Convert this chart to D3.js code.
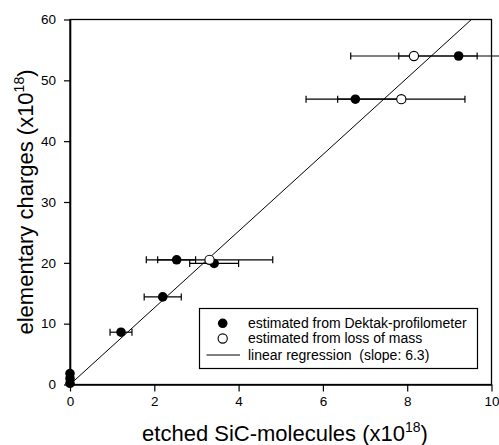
<!DOCTYPE html>
<html>
<head>
<meta charset="utf-8">
<script src="https://cdn.jsdelivr.net/npm/d3@7"></script>
<style>
  html, body { margin: 0; padding: 0; background: #fff; }
  svg { display: block; }
  text { font-family: "Liberation Sans", Arial, Helvetica, sans-serif; fill: #000; }
</style>
</head>
<body>
<svg id="chart" width="499" height="445"></svg>
<script>
// Etched SiC molecules vs. elementary charges (both x10^18)
const dektakX   = [0, 0, 0, 1.21, 2.2, 2.53, 3.42, 6.77, 9.22];
const dektakY   = [0.2, 1.0, 1.8, 8.6, 14.4, 20.5, 19.9, 46.9, 54.0];
const dektakErr = [0, 0, 0, 0.26, 0.44, 0.45, 0.58, 1.17, 1.42];

const massX   = [3.31, 7.86, 8.16];
const massY   = [20.5, 46.9, 54.0];
const massErr = [1.5, 1.51, 1.5];

const slope = 6.3;

const xTicks = [0, 2, 4, 6, 8, 10];
const yTicks = [0, 10, 20, 30, 40, 50, 60];

const legendLabels = [
  "estimated from Dektak-profilometer",
  "estimated from loss of mass",
  "linear regression  (slope: 6.3)"
];

const svg = d3.select("#chart");
const plotL = 70, plotR = 491.5, plotT = 19.5, plotB = 384.5;

const x = d3.scaleLinear().domain([0, 10]).range([plotL, plotR]);
const y = d3.scaleLinear().domain([0, 60]).range([plotB, plotT]);

// frame
svg.append("rect")
  .attr("x", plotL).attr("y", plotT)
  .attr("width", plotR - plotL).attr("height", plotB - plotT)
  .attr("fill", "none").attr("stroke", "#000").attr("stroke-width", 1.3);

// axes
const xAxis = d3.axisBottom(x).tickValues(xTicks).tickFormat(d3.format("d"))
  .tickSizeInner(7).tickSizeOuter(0).tickPadding(5);
const gx = svg.append("g").attr("transform", `translate(0,${plotB})`).call(xAxis);
gx.select(".domain").attr("stroke-width", 1.6);
gx.selectAll(".tick line").attr("stroke-width", 1.2);
gx.selectAll("text").attr("font-size", 13.5).style("font-family", "Liberation Sans, Arial, sans-serif");

const yAxis = d3.axisLeft(y).tickValues(yTicks).tickFormat(d3.format("d"))
  .tickSizeInner(6).tickSizeOuter(0).tickPadding(8);
const gy = svg.append("g").attr("transform", `translate(${plotL},0)`).call(yAxis);
gy.select(".domain").attr("stroke-width", 1.6);
gy.selectAll(".tick line").attr("stroke-width", 1.2);
gy.selectAll("text").attr("font-size", 13.5).style("font-family", "Liberation Sans, Arial, sans-serif");

// regression line
svg.append("line")
  .attr("x1", x(0)).attr("y1", y(0))
  .attr("x2", x(60 / slope)).attr("y2", y(60))
  .attr("stroke", "#000").attr("stroke-width", 1);

// error bars
function errorBars(xs, ys, es) {
  const g = svg.append("g").attr("stroke", "#000").attr("stroke-width", 1.2);
  xs.forEach((xv, i) => {
    if (!es[i]) return;
    const x0 = x(xv - es[i]), x1 = x(xv + es[i]), yy = y(ys[i]);
    g.append("line").attr("x1", x0).attr("x2", x1).attr("y1", yy).attr("y2", yy);
    g.append("line").attr("x1", x0).attr("x2", x0).attr("y1", yy - 3.5).attr("y2", yy + 3.5);
    g.append("line").attr("x1", x1).attr("x2", x1).attr("y1", yy - 3.5).attr("y2", yy + 3.5);
  });
}
errorBars(dektakX, dektakY, dektakErr);
errorBars(massX, massY, massErr);

// markers
svg.append("g").selectAll("circle").data(dektakX).join("circle")
  .attr("cx", d => x(d)).attr("cy", (d, i) => y(dektakY[i]))
  .attr("r", 4.8).attr("fill", "#000");

svg.append("g").selectAll("circle").data(massX).join("circle")
  .attr("cx", d => x(d)).attr("cy", (d, i) => y(massY[i]))
  .attr("r", 4.6).attr("fill", "#fff").attr("stroke", "#000").attr("stroke-width", 1.1);

// legend
const lg = svg.append("g");
lg.append("rect").attr("x", 199.5).attr("y", 308.5).attr("width", 278).attr("height", 60)
  .attr("fill", "#fff").attr("stroke", "#000").attr("stroke-width", 1.2);
const rowY = [323.3, 338.5, 355];
lg.append("circle").attr("cx", 222.7).attr("cy", rowY[0]).attr("r", 4.8).attr("fill", "#000");
lg.append("circle").attr("cx", 222.7).attr("cy", rowY[1]).attr("r", 4.6)
  .attr("fill", "#fff").attr("stroke", "#000").attr("stroke-width", 1.1);
lg.append("line").attr("x1", 206.5).attr("x2", 240).attr("y1", rowY[2]).attr("y2", rowY[2])
  .attr("stroke", "#000").attr("stroke-width", 1);
lg.selectAll("text.lab").data(legendLabels).join("text")
  .attr("class", "lab")
  .attr("x", 248).attr("y", (d, i) => rowY[i] + 4.5)
  .attr("font-size", 14).style("white-space", "pre").text(d => d);

// axis titles
const xt = svg.append("text").attr("x", 285).attr("y", 441)
  .attr("text-anchor", "middle").attr("font-size", 22);
xt.append("tspan").text("etched SiC-molecules (x10");
xt.append("tspan").attr("font-size", 14).attr("dy", -9).text("18");
xt.append("tspan").attr("dy", 9).text(")");

const yt = svg.append("text").attr("transform", "translate(33,202) rotate(-90)")
  .attr("text-anchor", "middle").attr("font-size", 22);
yt.append("tspan").text("elementary charges (x10");
yt.append("tspan").attr("font-size", 14).attr("dy", -9).text("18");
yt.append("tspan").attr("dy", 9).text(")");
</script>
</body>
</html>
